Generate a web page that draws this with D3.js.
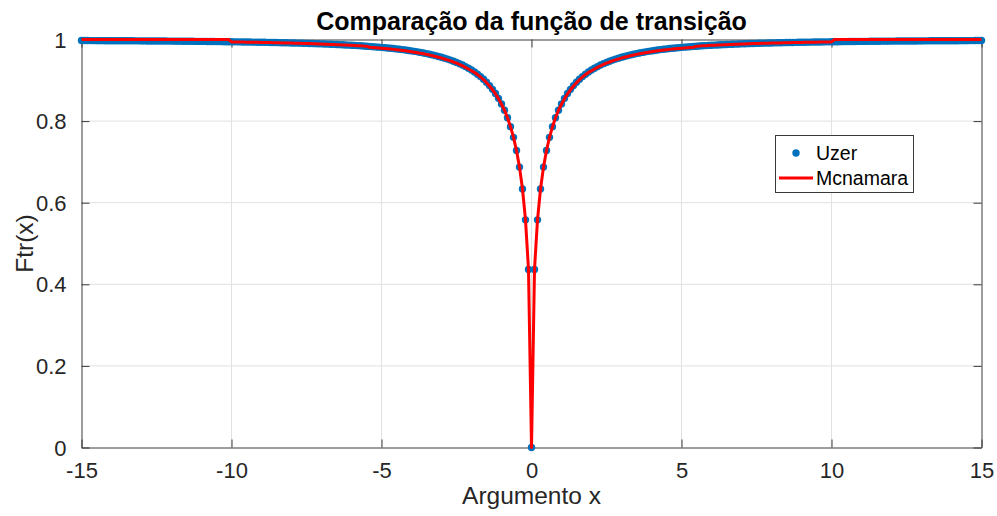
<!DOCTYPE html>
<html>
<head>
<meta charset="utf-8">
<script src="https://cdn.jsdelivr.net/npm/d3@7"></script>
<style>
  html, body { margin: 0; padding: 0; background: #ffffff; }
  svg { display: block; }
  text { font-family: "Liberation Sans", Arial, Helvetica, sans-serif; }
</style>
</head>
<body>
<svg id="chart" width="997" height="516"></svg>
<script>
// Argument of the transition function
const xValues = [
  -15.0,-14.9,-14.8,-14.7,-14.6,-14.5,-14.4,-14.3,-14.2,-14.1,
  -14.0,-13.9,-13.8,-13.7,-13.6,-13.5,-13.4,-13.3,-13.2,-13.1,
  -13.0,-12.9,-12.8,-12.7,-12.6,-12.5,-12.4,-12.3,-12.2,-12.1,
  -12.0,-11.9,-11.8,-11.7,-11.6,-11.5,-11.4,-11.3,-11.2,-11.1,
  -11.0,-10.9,-10.8,-10.7,-10.6,-10.5,-10.4,-10.3,-10.2,-10.1,
  -10.0,-9.9,-9.8,-9.7,-9.6,-9.5,-9.4,-9.3,-9.2,-9.1,
  -9.0,-8.9,-8.8,-8.7,-8.6,-8.5,-8.4,-8.3,-8.2,-8.1,
  -8.0,-7.9,-7.8,-7.7,-7.6,-7.5,-7.4,-7.3,-7.2,-7.1,
  -7.0,-6.9,-6.8,-6.7,-6.6,-6.5,-6.4,-6.3,-6.2,-6.1,
  -6.0,-5.9,-5.8,-5.7,-5.6,-5.5,-5.4,-5.3,-5.2,-5.1,
  -5.0,-4.9,-4.8,-4.7,-4.6,-4.5,-4.4,-4.3,-4.2,-4.1,
  -4.0,-3.9,-3.8,-3.7,-3.6,-3.5,-3.4,-3.3,-3.2,-3.1,
  -3.0,-2.9,-2.8,-2.7,-2.6,-2.5,-2.4,-2.3,-2.2,-2.1,
  -2.0,-1.9,-1.8,-1.7,-1.6,-1.5,-1.4,-1.3,-1.2,-1.1,
  -1.0,-0.9,-0.8,-0.7,-0.6,-0.5,-0.4,-0.3,-0.2,-0.1,
  0.0,
  0.1,0.2,0.3,0.4,0.5,0.6,0.7,0.8,0.9,1.0,
  1.1,1.2,1.3,1.4,1.5,1.6,1.7,1.8,1.9,2.0,
  2.1,2.2,2.3,2.4,2.5,2.6,2.7,2.8,2.9,3.0,
  3.1,3.2,3.3,3.4,3.5,3.6,3.7,3.8,3.9,4.0,
  4.1,4.2,4.3,4.4,4.5,4.6,4.7,4.8,4.9,5.0,
  5.1,5.2,5.3,5.4,5.5,5.6,5.7,5.8,5.9,6.0,
  6.1,6.2,6.3,6.4,6.5,6.6,6.7,6.8,6.9,7.0,
  7.1,7.2,7.3,7.4,7.5,7.6,7.7,7.8,7.9,8.0,
  8.1,8.2,8.3,8.4,8.5,8.6,8.7,8.8,8.9,9.0,
  9.1,9.2,9.3,9.4,9.5,9.6,9.7,9.8,9.9,10.0,
  10.1,10.2,10.3,10.4,10.5,10.6,10.7,10.8,10.9,11.0,
  11.1,11.2,11.3,11.4,11.5,11.6,11.7,11.8,11.9,12.0,
  12.1,12.2,12.3,12.4,12.5,12.6,12.7,12.8,12.9,13.0,
  13.1,13.2,13.3,13.4,13.5,13.6,13.7,13.8,13.9,14.0,
  14.1,14.2,14.3,14.4,14.5,14.6,14.7,14.8,14.9,15.0
];

// Uzer approximation, |Ftr(x)|
const uzerValues = [
  0.9974,0.9974,0.9974,0.9973,0.9973,0.9972,0.9972,0.9972,0.9971,0.9971,
  0.9971,0.9970,0.9970,0.9969,0.9969,0.9969,0.9968,0.9968,0.9967,0.9967,
  0.9966,0.9966,0.9965,0.9965,0.9964,0.9964,0.9963,0.9962,0.9962,0.9961,
  0.9961,0.9960,0.9959,0.9959,0.9958,0.9957,0.9957,0.9956,0.9955,0.9954,
  0.9954,0.9953,0.9952,0.9951,0.9950,0.9949,0.9948,0.9947,0.9946,0.9945,
  0.9944,0.9943,0.9942,0.9941,0.9940,0.9939,0.9938,0.9936,0.9935,0.9934,
  0.9932,0.9931,0.9930,0.9928,0.9926,0.9925,0.9923,0.9921,0.9920,0.9918,
  0.9916,0.9914,0.9912,0.9910,0.9908,0.9906,0.9903,0.9901,0.9898,0.9896,
  0.9893,0.9890,0.9887,0.9884,0.9881,0.9878,0.9874,0.9871,0.9867,0.9863,
  0.9859,0.9855,0.9851,0.9846,0.9841,0.9836,0.9831,0.9825,0.9819,0.9813,
  0.9807,0.9800,0.9793,0.9786,0.9778,0.9770,0.9761,0.9752,0.9742,0.9732,
  0.9721,0.9709,0.9697,0.9684,0.9670,0.9655,0.9639,0.9622,0.9604,0.9585,
  0.9565,0.9543,0.9520,0.9495,0.9468,0.9439,0.9408,0.9374,0.9336,0.9296,
  0.9252,0.9203,0.9150,0.9091,0.9025,0.8952,0.8870,0.8778,0.8675,0.8557,
  0.8422,0.8265,0.8081,0.7864,0.7602,0.7280,0.6872,0.6336,0.5580,0.4364,
  0,
  0.4364,0.5580,0.6336,0.6872,0.7280,0.7602,0.7864,0.8081,0.8265,0.8422,
  0.8557,0.8675,0.8778,0.8870,0.8952,0.9025,0.9091,0.9150,0.9203,0.9252,
  0.9296,0.9336,0.9374,0.9408,0.9439,0.9468,0.9495,0.9520,0.9543,0.9565,
  0.9585,0.9604,0.9622,0.9639,0.9655,0.9670,0.9684,0.9697,0.9709,0.9721,
  0.9732,0.9742,0.9752,0.9761,0.9770,0.9778,0.9786,0.9793,0.9800,0.9807,
  0.9813,0.9819,0.9825,0.9831,0.9836,0.9841,0.9846,0.9851,0.9855,0.9859,
  0.9863,0.9867,0.9871,0.9874,0.9878,0.9881,0.9884,0.9887,0.9890,0.9893,
  0.9896,0.9898,0.9901,0.9903,0.9906,0.9908,0.9910,0.9912,0.9914,0.9916,
  0.9918,0.9920,0.9921,0.9923,0.9925,0.9926,0.9928,0.9930,0.9931,0.9932,
  0.9934,0.9935,0.9936,0.9938,0.9939,0.9940,0.9941,0.9942,0.9943,0.9944,
  0.9945,0.9946,0.9947,0.9948,0.9949,0.9950,0.9951,0.9952,0.9953,0.9954,
  0.9954,0.9955,0.9956,0.9957,0.9957,0.9958,0.9959,0.9959,0.9960,0.9961,
  0.9961,0.9962,0.9962,0.9963,0.9964,0.9964,0.9965,0.9965,0.9966,0.9966,
  0.9967,0.9967,0.9968,0.9968,0.9969,0.9969,0.9969,0.9970,0.9970,0.9971,
  0.9971,0.9971,0.9972,0.9972,0.9972,0.9973,0.9973,0.9974,0.9974,0.9974
];

// McNamara approximation, |Ftr(x)|
const mcnamaraValues = [
  1,1,1,1,1,1,1,1,1,1,
  1,1,1,1,1,1,1,1,1,1,
  1,1,1,1,1,1,1,1,1,1,
  1,1,1,1,1,1,1,1,1,1,
  1,1,1,1,1,1,1,1,1,1,
  0.9940,0.9939,0.9938,0.9937,0.9936,0.9935,0.9934,0.9932,0.9931,0.9930,
  0.9928,0.9927,0.9926,0.9924,0.9922,0.9921,0.9919,0.9917,0.9916,0.9914,
  0.9912,0.9910,0.9908,0.9906,0.9904,0.9902,0.9899,0.9897,0.9894,0.9892,
  0.9889,0.9886,0.9883,0.9880,0.9877,0.9874,0.9870,0.9867,0.9863,0.9859,
  0.9857,0.9853,0.9849,0.9844,0.9839,0.9836,0.9811,0.9805,0.9799,0.9793,
  0.9787,0.9780,0.9773,0.9766,0.9758,0.9750,0.9741,0.9732,0.9722,0.9712,
  0.9701,0.9689,0.9677,0.9664,0.9650,0.9635,0.9619,0.9602,0.9584,0.9565,
  0.9545,0.9523,0.9500,0.9475,0.9448,0.9419,0.9388,0.9354,0.9316,0.9276,
  0.9232,0.9193,0.9140,0.9081,0.9015,0.8942,0.8860,0.8768,0.8665,0.8547,
  0.8412,0.8265,0.8081,0.7864,0.7602,0.7280,0.6872,0.6336,0.5580,0.4364,
  0,
  0.4364,0.5580,0.6336,0.6872,0.7280,0.7602,0.7864,0.8081,0.8265,0.8412,
  0.8547,0.8665,0.8768,0.8860,0.8942,0.9015,0.9081,0.9140,0.9193,0.9232,
  0.9276,0.9316,0.9354,0.9388,0.9419,0.9448,0.9475,0.9500,0.9523,0.9545,
  0.9565,0.9584,0.9602,0.9619,0.9635,0.9650,0.9664,0.9677,0.9689,0.9701,
  0.9712,0.9722,0.9732,0.9741,0.9750,0.9758,0.9766,0.9773,0.9780,0.9787,
  0.9793,0.9799,0.9805,0.9811,0.9836,0.9839,0.9844,0.9849,0.9853,0.9857,
  0.9859,0.9863,0.9867,0.9870,0.9874,0.9877,0.9880,0.9883,0.9886,0.9889,
  0.9892,0.9894,0.9897,0.9899,0.9902,0.9904,0.9906,0.9908,0.9910,0.9912,
  0.9914,0.9916,0.9917,0.9919,0.9921,0.9922,0.9924,0.9926,0.9927,0.9928,
  0.9930,0.9931,0.9932,0.9934,0.9935,0.9936,0.9937,0.9938,0.9939,0.9940,
  1,1,1,1,1,1,1,1,1,1,
  1,1,1,1,1,1,1,1,1,1,
  1,1,1,1,1,1,1,1,1,1,
  1,1,1,1,1,1,1,1,1,1,
  1,1,1,1,1,1,1,1,1,1
];

const xTicks = [-15, -10, -5, 0, 5, 10, 15];
const xTickLabels = ["-15", "-10", "-5", "0", "5", "10", "15"];
const yTicks = [0, 0.2, 0.4, 0.6, 0.8, 1];
const yTickLabels = ["0", "0.2", "0.4", "0.6", "0.8", "1"];
const seriesNames = ["Uzer", "Mcnamara"];

const titleText = "Comparação da função de transição";
const xLabelText = "Argumento x";
const yLabelText = "Ftr(x)";

// ---- layout ----
const plot = { left: 81.5, right: 981.5, top: 39.5, bottom: 447.5 };
const axisColor = "#3a3a3a";
const gridColor = "#e1e1e1";
const textColor = "#262626";
const blue = "#0072BD";
const red = "#FF0000";
const dotRadius = 3.7;

const svg = d3.select("#chart");

const x = d3.scaleLinear().domain([-15, 15]).range([plot.left, plot.right]);
const y = d3.scaleLinear().domain([0, 1]).range([plot.bottom, plot.top]);

// grid
const grid = svg.append("g");
grid.selectAll(".gx").data(xTicks.slice(1, -1)).join("line")
  .attr("x1", d => x(d)).attr("x2", d => x(d))
  .attr("y1", plot.top).attr("y2", plot.bottom)
  .attr("stroke", gridColor).attr("stroke-width", 1);
grid.selectAll(".gy").data(yTicks.slice(1, -1)).join("line")
  .attr("y1", d => y(d)).attr("y2", d => y(d))
  .attr("x1", plot.left).attr("x2", plot.right)
  .attr("stroke", gridColor).attr("stroke-width", 1);

// axes (ticks point inward; box drawn on all four sides)
const tickLen = 8;
const xAxisBottom = d3.axisBottom(x).tickValues(xTicks)
  .tickFormat((d, i) => xTickLabels[i]).tickSizeInner(-tickLen).tickSizeOuter(0).tickPadding(14);
const xAxisTop = d3.axisTop(x).tickValues(xTicks)
  .tickFormat("").tickSizeInner(-tickLen).tickSizeOuter(0);
const yAxisLeft = d3.axisLeft(y).tickValues(yTicks)
  .tickFormat((d, i) => yTickLabels[i]).tickSizeInner(-tickLen).tickSizeOuter(0).tickPadding(15);
const yAxisRight = d3.axisRight(y).tickValues(yTicks)
  .tickFormat("").tickSizeInner(-tickLen).tickSizeOuter(0);

function styleAxis(g) {
  g.select(".domain").attr("stroke", axisColor).attr("stroke-width", 1);
  g.selectAll(".tick line").attr("stroke", axisColor).attr("stroke-width", 1);
  g.selectAll(".tick text").attr("fill", textColor)
    .style("font-family", '"Liberation Sans", Arial, sans-serif')
    .style("font-size", "22px");
}

const gBottom = svg.append("g").attr("transform", `translate(0,${plot.bottom})`).call(xAxisBottom).call(styleAxis);
svg.append("g").attr("transform", `translate(0,${plot.top})`).call(xAxisTop).call(styleAxis);
const gLeft = svg.append("g").attr("transform", `translate(${plot.left},0)`).call(yAxisLeft).call(styleAxis);
svg.append("g").attr("transform", `translate(${plot.right},0)`).call(yAxisRight).call(styleAxis);

gBottom.selectAll(".tick text").attr("dy", null).attr("dominant-baseline", "hanging").attr("y", 14);
gLeft.selectAll(".tick text").attr("dy", null).attr("dominant-baseline", "central");

// data
const points = xValues.map((xv, i) => ({ x: xv, u: uzerValues[i], m: mcnamaraValues[i] }));

// Uzer: point markers
svg.append("g").selectAll("circle").data(points).join("circle")
  .attr("cx", d => x(d.x)).attr("cy", d => y(d.u)).attr("r", dotRadius)
  .attr("fill", blue);

// McNamara: solid line
const line = d3.line().x(d => x(d.x)).y(d => y(d.m));
svg.append("path").datum(points)
  .attr("d", line).attr("fill", "none")
  .attr("stroke", red).attr("stroke-width", 3).attr("stroke-linejoin", "round");

// title and axis labels
svg.append("text").attr("x", (plot.left + plot.right) / 2).attr("y", 30)
  .attr("text-anchor", "middle").attr("font-weight", "bold").attr("font-size", 25)
  .attr("fill", "#000").text(titleText);

svg.append("text").attr("x", (plot.left + plot.right) / 2).attr("y", 504)
  .attr("text-anchor", "middle").attr("font-size", 24.5)
  .attr("fill", textColor).text(xLabelText);

svg.append("text").attr("transform", `translate(33,${(plot.top + plot.bottom) / 2}) rotate(-90)`)
  .attr("text-anchor", "middle").attr("font-size", 24.5)
  .attr("fill", textColor).text(yLabelText);

// legend
const legend = svg.append("g");
legend.append("rect").attr("x", 775.5).attr("y", 135.5).attr("width", 138).attr("height", 57)
  .attr("fill", "#fff").attr("stroke", axisColor).attr("stroke-width", 1);
legend.append("circle").attr("cx", 796).attr("cy", 153).attr("r", dotRadius).attr("fill", blue);
legend.append("line").attr("x1", 779).attr("x2", 813).attr("y1", 178).attr("y2", 178)
  .attr("stroke", red).attr("stroke-width", 3);
legend.selectAll(".lt").data(seriesNames).join("text")
  .attr("x", 816).attr("y", (d, i) => 160 + i * 24.5)
  .attr("font-size", 19.5).attr("fill", "#000").text(d => d);
</script>
</body>
</html>
